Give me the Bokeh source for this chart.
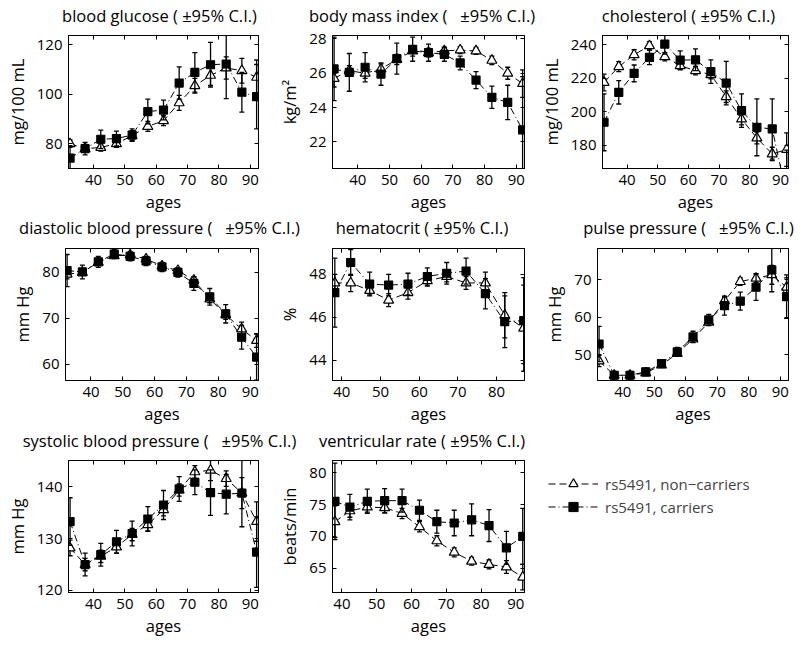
from bokeh.plotting import figure
from bokeh.models import Range1d, FixedTicker, LinearAxis, Label, Legend, LegendItem
from bokeh.layouts import column, row
from bokeh.embed import file_html
from bokeh.resources import INLINE

FONT = "Open Sans"
NB = "\u00a0"

# ---------------- data ----------------
ages_13 = [32.5, 37.3, 42.3, 47.3, 52.3, 57.3, 62.3, 67.3, 72.3, 77.3, 82.3, 87.3, 92.0]
ages_hct = [38.2, 42.3, 47.2, 52.1, 57.1, 62.1, 67.1, 72.1, 77.1, 82.1, 87.0]
ages_vr = [38.0, 42.3, 47.3, 52.3, 57.3, 62.3, 67.3, 72.3, 77.3, 82.3, 87.3, 92.0]
x_ticks = [40, 50, 60, 70, 80, 90]
x_ticks_hct = [40, 50, 60, 70, 80]

glucose_nc = [80.0, 78.0, 78.5, 80.0, 83.3, 87.0, 89.3, 96.5, 103.4, 107.6, 110.6, 109.5, 106.8]
glucose_nc_ci = [1.5, 1.5, 1.5, 1.5, 2.0, 2.0, 2.0, 3.0, 3.0, 4.0, 4.5, 5.0, 7.0]
glucose_c = [74.2, 78.0, 81.8, 82.1, 83.5, 93.0, 93.6, 104.5, 108.8, 111.9, 112.2, 100.8, 99.0]
glucose_c_ci = [5.0, 2.5, 3.7, 3.0, 2.5, 5.0, 4.0, 6.5, 8.0, 9.0, 14.0, 8.0, 13.0]

bmi_nc = [25.7, 26.15, 26.0, 26.25, 26.8, 27.3, 27.2, 27.3, 27.35, 27.3, 26.75, 26.0, 25.4]
bmi_nc_ci = [0.5, 0.3, 0.3, 0.3, 0.3, 0.3, 0.25, 0.2, 0.2, 0.2, 0.25, 0.35, 0.8]
bmi_c = [26.25, 26.05, 26.35, 25.95, 26.85, 27.4, 27.2, 27.1, 26.6, 25.6, 24.6, 24.3, 22.7]
bmi_c_ci = [1.85, 1.1, 0.85, 0.65, 0.9, 0.7, 0.5, 0.4, 0.4, 0.5, 0.65, 1.0, 3.1]

chol_nc = [217.4, 226.8, 233.9, 239.3, 232.7, 227.4, 224.4, 222.0, 208.9, 195.5, 184.2, 174.7, 177.3]
chol_nc_ci = [5.0, 3.0, 3.0, 2.5, 2.5, 2.5, 2.5, 2.5, 3.5, 3.5, 3.5, 4.0, 10.0]
chol_c = [193.6, 211.5, 222.8, 232.3, 240.3, 230.7, 230.9, 223.8, 217.0, 200.5, 190.6, 189.6, 150.0]
chol_c_ci = [17.0, 7.0, 5.0, 4.3, 6.0, 5.5, 6.5, 7.0, 13.0, 10.0, 17.0, 18.0, 27.0]

dbp_nc = [79.6, 80.0, 82.2, 83.6, 83.8, 82.9, 81.4, 80.4, 78.3, 74.2, 70.8, 67.7, 65.2]
dbp_nc_ci = [1.0, 0.6, 0.6, 0.5, 0.5, 0.5, 0.5, 0.5, 0.7, 0.8, 1.0, 1.5, 1.5]
dbp_c = [80.4, 80.1, 82.3, 84.0, 83.5, 82.5, 81.2, 80.0, 77.6, 74.7, 71.0, 65.9, 61.6]
dbp_c_ci = [3.5, 1.5, 1.2, 1.0, 1.0, 1.0, 1.0, 1.0, 1.5, 1.8, 2.0, 2.6, 5.0]

hct_nc = [47.6, 47.6, 47.25, 46.8, 47.15, 47.7, 47.9, 47.6, 47.6, 46.1, 45.5]
hct_nc_ci = [0.4, 0.4, 0.2, 0.3, 0.3, 0.25, 0.25, 0.3, 0.5, 1.05, 2.0]
hct_c = [47.15, 48.55, 47.55, 47.5, 47.55, 47.9, 48.05, 48.15, 47.1, 45.8, 45.85]
hct_c_ci = [1.6, 0.6, 0.55, 0.5, 0.5, 0.4, 0.5, 0.6, 0.7, 1.2, 2.0]

pp_nc = [48.4, 44.6, 44.6, 45.2, 47.3, 50.4, 54.2, 58.7, 64.4, 69.5, 70.4, 71.3, 68.0]
pp_nc_ci = [1.5, 0.6, 0.6, 0.6, 0.6, 0.6, 0.7, 0.8, 0.8, 1.0, 1.2, 2.5, 2.5]
pp_c = [52.9, 44.6, 44.6, 45.5, 47.7, 50.8, 54.8, 59.3, 63.1, 64.3, 68.0, 72.6, 65.5]
pp_c_ci = [4.7, 1.0, 1.0, 1.0, 1.0, 1.2, 1.5, 1.5, 2.5, 2.4, 3.5, 5.8, 5.8]

sbp_nc = [128.2, 125.0, 126.6, 128.4, 130.8, 132.7, 135.6, 139.4, 142.9, 143.2, 141.6, 138.8, 133.3]
sbp_nc_ci = [1.5, 1.2, 1.2, 1.2, 1.2, 1.2, 1.2, 1.2, 1.2, 2.0, 1.5, 3.0, 3.8]
sbp_c = [133.3, 125.0, 126.9, 129.4, 131.0, 133.8, 136.5, 139.6, 140.9, 138.9, 138.6, 138.8, 127.4]
sbp_c_ci = [4.6, 2.2, 2.2, 2.2, 2.4, 2.4, 2.8, 2.4, 2.4, 4.4, 3.8, 6.5, 6.8]

vr_nc = [72.3, 74.0, 74.6, 74.5, 73.6, 71.5, 69.3, 67.5, 66.1, 65.6, 65.2, 63.6]
vr_nc_ci = [2.5, 1.0, 0.8, 0.8, 0.8, 0.8, 0.8, 0.7, 0.6, 0.7, 1.0, 2.0]
vr_c = [75.5, 74.6, 75.5, 75.6, 75.6, 74.1, 72.3, 72.1, 72.6, 71.7, 68.2, 70.0]
vr_c_ci = [6.0, 2.0, 1.9, 1.9, 1.8, 1.6, 1.8, 2.0, 2.5, 2.5, 2.6, 4.4]

titles = [
    "blood glucose (" + NB + "\u00b1" + "95% C.I.)",
    "body mass index (" + NB * 3 + "\u00b1" + "95% C.I.)",
    "cholesterol (" + NB + "\u00b1" + "95% C.I.)",
    "diastolic blood pressure (" + NB * 3 + "\u00b1" + "95% C.I.)",
    "hematocrit (" + NB + "\u00b1" + "95% C.I.)",
    "pulse pressure (" + NB * 3 + "\u00b1" + "95% C.I.)",
    "systolic blood pressure (" + NB * 3 + "\u00b1" + "95% C.I.)",
    "ventricular rate (" + NB + "\u00b1" + "95% C.I.)",
]
y_labels = ["mg/100 mL", "kg/m\u00b2", "mg/100 mL", "mm Hg", "%", "mm Hg", "mm Hg", "beats/min"]
x_label = "ages"
legend_labels = ["rs5491, non\u2212carriers", "rs5491, carriers"]

panels = [
    dict(ages=ages_13, nc=glucose_nc, nc_ci=glucose_nc_ci, c=glucose_c, c_ci=glucose_c_ci,
         xr=(32.0, 92.6), yr=(70.0, 123.7), xt=x_ticks, yt=[80, 100, 120]),
    dict(ages=ages_13, nc=bmi_nc, nc_ci=bmi_nc_ci, c=bmi_c, c_ci=bmi_c_ci,
         xr=(32.0, 92.6), yr=(20.45, 28.2), xt=x_ticks, yt=[22, 24, 26, 28]),
    dict(ages=ages_13, nc=chol_nc, nc_ci=chol_nc_ci, c=chol_c, c_ci=chol_c_ci,
         xr=(32.0, 92.6), yr=(166.0, 245.4), xt=x_ticks, yt=[180, 200, 220, 240]),
    dict(ages=ages_13, nc=dbp_nc, nc_ci=dbp_nc_ci, c=dbp_c, c_ci=dbp_c_ci,
         xr=(32.0, 92.6), yr=(56.5, 85.2), xt=x_ticks, yt=[60, 70, 80]),
    dict(ages=ages_hct, nc=hct_nc, nc_ci=hct_nc_ci, c=hct_c, c_ci=hct_c_ci,
         xr=(37.6, 87.2), yr=(43.07, 49.2), xt=x_ticks_hct, yt=[44, 46, 48]),
    dict(ages=ages_13, nc=pp_nc, nc_ci=pp_nc_ci, c=pp_c, c_ci=pp_c_ci,
         xr=(32.0, 92.6), yr=(43.2, 78.3), xt=x_ticks, yt=[50, 60, 70]),
    dict(ages=ages_13, nc=sbp_nc, nc_ci=sbp_nc_ci, c=sbp_c, c_ci=sbp_c_ci,
         xr=(32.0, 92.6), yr=(119.6, 145.1), xt=x_ticks, yt=[120, 130, 140]),
    dict(ages=ages_vr, nc=vr_nc, nc_ci=vr_nc_ci, c=vr_c, c_ci=vr_c_ci,
         xr=(37.3, 92.5), yr=(61.2, 81.9), xt=x_ticks, yt=[65, 70, 75, 80]),
]

# ---------------- layout geometry (page x of layout start = 2) ----------------
PAGE_X0 = 2
col_w = [268, 266, 256]
col_bl = [63, 62, 61]
col_br = [12, 12, 4]
row_h = [189, 190, 187]
row_bt = [7, 8, 8]
row_bb = [49, 50, 46]
title_cx = [157, 419.5, 686]   # title centres inside the strips
STRIP_W = 798

TICK_FS = "15px"
LABEL_FS = "16.5px"
NC_DASH = "7 4"
C_DASH = "7 3 1 3"


def style_axis(ax, ticks, labels=True):
    ax.ticker = FixedTicker(ticks=ticks)
    ax.major_tick_in = 4
    ax.major_tick_out = 0
    ax.minor_tick_line_color = None
    ax.axis_line_color = "black"
    ax.major_tick_line_color = "black"
    if labels:
        ax.major_label_text_font = FONT
        ax.major_label_text_font_size = TICK_FS
        ax.major_label_text_color = "black"
        ax.axis_label_text_font = FONT
        ax.axis_label_text_font_size = LABEL_FS
        ax.axis_label_text_font_style = "normal"
        ax.axis_label_text_color = "black"


def mirror_axis(ticks):
    ax = LinearAxis(major_label_overrides={t: "" for t in ticks}, major_label_standoff=0,
                    major_label_text_font_size="0px")
    style_axis(ax, ticks, labels=False)
    return ax


def series(p, ages, vals, ci, marker, size, fill, dash, cap_w):
    p.line(ages, vals, line_color="black", line_width=1, line_dash=dash)
    lo = [v - e for v, e in zip(vals, ci)]
    hi = [v + e for v, e in zip(vals, ci)]
    p.segment(x0=ages, y0=lo, x1=ages, y1=hi, line_color="black", line_width=1.3)
    p.scatter(ages, lo, marker="dash", size=cap_w, line_color="black", line_width=1.3)
    p.scatter(ages, hi, marker="dash", size=cap_w, line_color="black", line_width=1.3)
    p.scatter(ages, vals, marker=marker, size=size, fill_color=fill, line_color="black",
              line_width=1.2)


def make_panel(i):
    spec = panels[i]
    r, c = divmod(i, 3)
    p = figure(width=col_w[c], height=row_h[r], output_backend="svg", toolbar_location=None,
               x_range=Range1d(*spec["xr"]), y_range=Range1d(*spec["yr"]),
               min_border_left=col_bl[c], min_border_right=col_br[c],
               min_border_top=row_bt[r], min_border_bottom=row_bb[r])
    p.xgrid.visible = False
    p.ygrid.visible = False
    p.outline_line_color = "black"
    p.outline_line_width = 1
    p.background_fill_color = "white"
    style_axis(p.xaxis[0], spec["xt"])
    style_axis(p.yaxis[0], spec["yt"])
    p.xaxis[0].axis_label = x_label
    p.yaxis[0].axis_label = y_labels[i]
    p.xaxis[0].major_label_standoff = 6
    p.xaxis[0].axis_label_standoff = 2
    p.yaxis[0].major_label_standoff = 6
    p.yaxis[0].axis_label_standoff = 5
    # mirrored ticks on the right and top (box on)
    p.add_layout(mirror_axis(spec["yt"]), "right")
    p.add_layout(mirror_axis(spec["xt"]), "above")
    series(p, spec["ages"], spec["nc"], spec["nc_ci"], "triangle", 10, "white", NC_DASH, 5)
    series(p, spec["ages"], spec["c"], spec["c_ci"], "square", 8, "black", C_DASH, 5)
    return p


def make_strip(h, y_from_bottom, row_titles):
    s = figure(width=STRIP_W, height=h, output_backend="svg", toolbar_location=None,
               x_range=Range1d(0, STRIP_W), y_range=Range1d(0, h),
               x_axis_location=None, y_axis_location=None, min_border=0)
    s.grid.visible = False
    s.outline_line_color = None
    for k, t in enumerate(row_titles):
        s.add_layout(Label(x=title_cx[k], y=y_from_bottom, x_units="screen",
                           y_units="screen", text=t, text_align="center",
                           text_baseline="middle", text_font=FONT, text_font_size=LABEL_FS,
                           text_color="black"))
    return s


def make_legend_fig():
    # the legend's renderers use real series that fall outside this empty panel's ranges
    lp = figure(width=col_w[2], height=row_h[2], output_backend="svg", toolbar_location=None,
                x_range=Range1d(0, 1), y_range=Range1d(0, 1),
                x_axis_location=None, y_axis_location=None, min_border=0)
    lp.grid.visible = False
    lp.outline_line_color = None
    l1 = lp.line(ages_13, glucose_nc, line_color="black", line_width=1, line_dash=NC_DASH)
    m1 = lp.scatter(ages_13, glucose_nc, marker="triangle", size=7, fill_color="white",
                    line_color="black", line_width=1.2)
    l2 = lp.line(ages_13, glucose_c, line_color="black", line_width=1, line_dash=C_DASH)
    m2 = lp.scatter(ages_13, glucose_c, marker="square", size=7, fill_color="black",
                    line_color="black")
    leg = Legend(items=[LegendItem(label=legend_labels[0], renderers=[l1, m1]),
                        LegendItem(label=legend_labels[1], renderers=[l2, m2])],
                 location="top_left", padding=0, margin=12, spacing=0,
                 label_height=23, glyph_height=23, glyph_width=50, label_standoff=7,
                 label_text_font=FONT, label_text_font_size=TICK_FS,
                 border_line_color=None, background_fill_alpha=0)
    lp.add_layout(leg, "center")
    return lp


figs = [make_panel(i) for i in range(8)]
figs.append(make_legend_fig())

strip_a = make_strip(28, 13, titles[0:3])
strip_b = make_strip(23, 13, titles[3:6])
strip_c = make_strip(22, 12, titles[6:8])

layout = column(
    strip_a, row(figs[0], figs[1], figs[2]),
    strip_b, row(figs[3], figs[4], figs[5]),
    strip_c, row(figs[6], figs[7], figs[8]),
    margin=(0, 0, 0, PAGE_X0),
)

open("out.html", "w").write(file_html(layout, INLINE))
